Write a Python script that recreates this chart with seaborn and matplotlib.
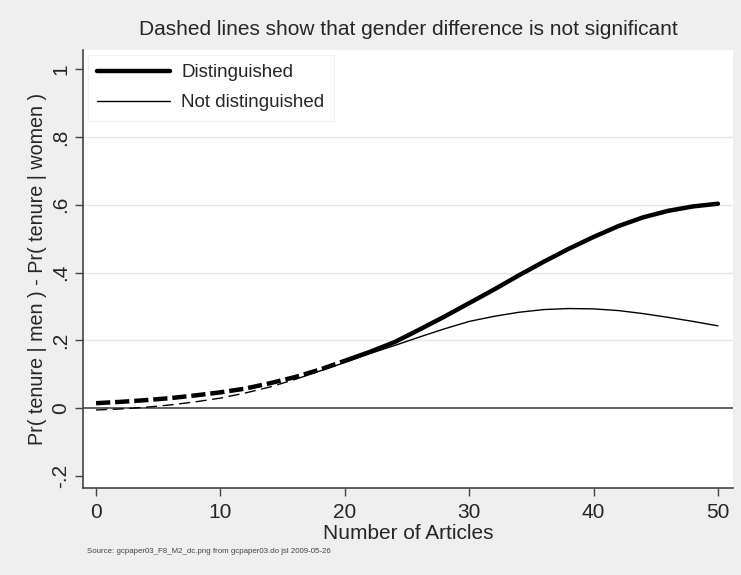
import numpy as np
import pandas as pd
import matplotlib
matplotlib.use("Agg")
import matplotlib.pyplot as plt
from matplotlib.lines import Line2D
import seaborn as sns

articles = [0, 2, 4, 6, 8, 10, 12, 14, 16, 18, 20, 22, 24, 26, 28, 30,
            32, 34, 36, 38, 40, 42, 44, 46, 48, 50]
distinguished = [0.015, 0.019, 0.024, 0.030, 0.038, 0.047, 0.058, 0.074, 0.092,
                 0.114, 0.140, 0.166, 0.195, 0.232, 0.270, 0.310, 0.350, 0.392,
                 0.432, 0.470, 0.505, 0.537, 0.563, 0.582, 0.595, 0.603]
not_distinguished = [-0.005, -0.002, 0.003, 0.010, 0.019, 0.030, 0.045, 0.063,
                     0.085, 0.110, 0.135, 0.161, 0.185, 0.210, 0.234, 0.256,
                     0.271, 0.283, 0.291, 0.294, 0.293, 0.288, 0.279, 0.268,
                     0.256, 0.243]
# last article count at which gender difference is not significant (dashed)
dist_sig_from = 20
notdist_sig_from = 16

yticks = [-0.2, 0, 0.2, 0.4, 0.6, 0.8, 1]
ytick_labels = ["-.2", "0", ".2", ".4", ".6", ".8", "1"]
xticks = [0, 10, 20, 30, 40, 50]

sns.set_theme(style="white")
plt.rcParams['font.family'] = ['Liberation Sans', 'DejaVu Sans']

fig = plt.figure(figsize=(7.41, 5.75), dpi=100)
fig.patch.set_facecolor("#efefef")
ax = fig.add_axes([0.112, 0.1513, 0.877, 0.7617])
ax.set_facecolor("white")

df = pd.DataFrame({"x": articles, "d": distinguished, "n": not_distinguished})

for col, split, lw in [("n", notdist_sig_from, 1.0), ("d", dist_sig_from, 3.2)]:
    dashed = df[df["x"] <= split]
    solid = df[df["x"] >= split]
    sns.lineplot(data=dashed, x="x", y=col, ax=ax, color="black", lw=lw,
                 linestyle=(0, (3.2, 1.1)) if lw > 2 else (0, (8, 4)))
    sns.lineplot(data=solid, x="x", y=col, ax=ax, color="black", lw=lw)

ax.axhline(0, color="#555555", lw=1.3, zorder=1)
for g in [0.2, 0.4, 0.6, 0.8]:
    ax.axhline(g, color="#e6e6e6", lw=1.0, zorder=0)

ax.set_xlim(-1.05, 51.2)
ax.set_ylim(-0.235, 1.056)
ax.set_xticks(xticks)
ax.set_xticklabels([str(t) for t in xticks], fontsize=15)
ax.set_yticks(yticks)
ax.set_yticklabels(ytick_labels, fontsize=15, rotation=90, va="center")
ax.tick_params(axis="x", direction="out", length=6, width=1, color="#444444",
               bottom=True, pad=5)
ax.tick_params(axis="y", direction="out", length=6, width=1, color="#444444",
               left=True, pad=3)

for s in ["top", "right"]:
    ax.spines[s].set_visible(False)
for s in ["left", "bottom"]:
    ax.spines[s].set_color("#444444")
    ax.spines[s].set_linewidth(1.2)

ax.set_xlabel("Number of Articles", fontsize=15, labelpad=1)
ax.set_ylabel("Pr( tenure | men ) - Pr( tenure | women )", fontsize=14.2, labelpad=3)
ax.set_title("Dashed lines show that gender difference is not significant",
             fontsize=15, pad=11)

handles = [Line2D([0], [0], color="black", lw=3.2),
           Line2D([0], [0], color="black", lw=1.0)]
leg = ax.legend(handles, ["Distinguished", "Not distinguished"], loc="upper left",
                fontsize=13.5, frameon=True, fancybox=False, handlelength=3.9,
                handletextpad=0.6, borderaxespad=0.25, borderpad=0.5,
                edgecolor="#eeeeee", labelspacing=0.7)
leg.get_frame().set_linewidth(0.8)

fig.text(0.117, 0.038, "Source: gcpaper03_F8_M2_dc.png from gcpaper03.do jsl 2009-05-26",
         fontsize=5.7, color="#444444")

fig.savefig("out.png", dpi=100, facecolor=fig.get_facecolor())
